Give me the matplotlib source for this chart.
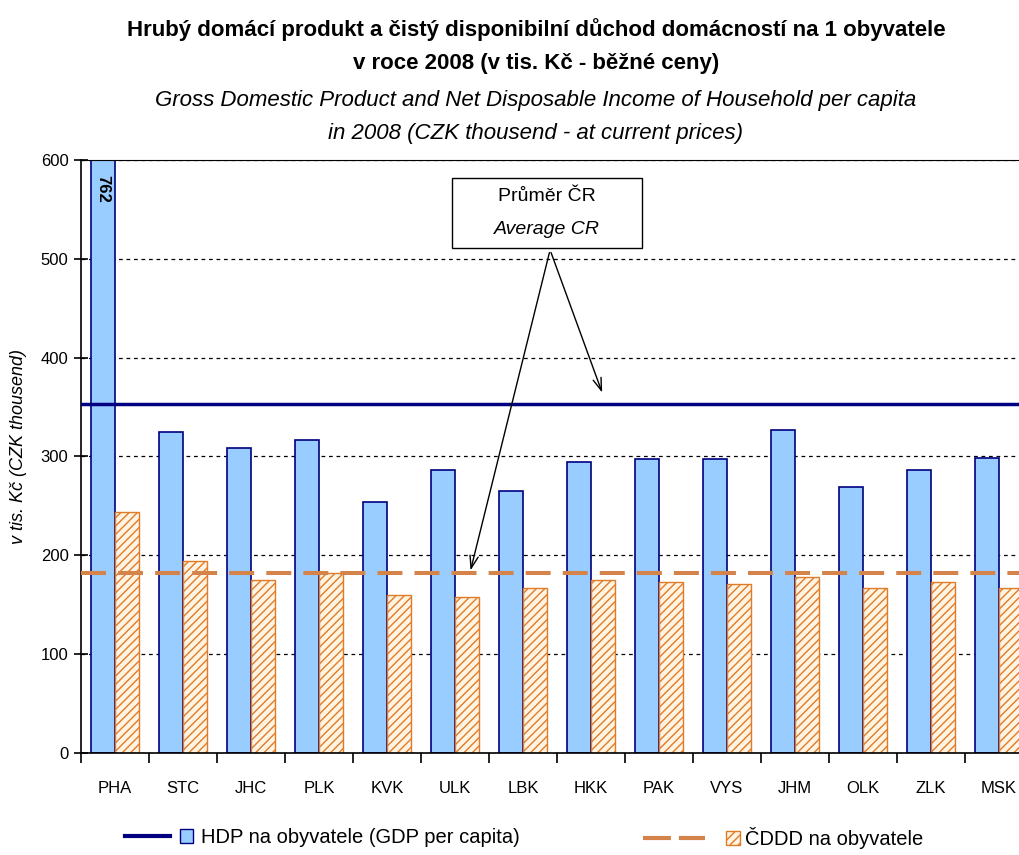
import numpy as np
import matplotlib
matplotlib.use("Agg")
import matplotlib.pyplot as plt
from matplotlib.lines import Line2D
from matplotlib.patches import Rectangle

plt.rcParams['font.family'] = ['Liberation Sans', 'DejaVu Sans']
plt.rcParams['hatch.linewidth'] = 1.0

# Data
kraje = ['PHA', 'STC', 'JHC', 'PLK', 'KVK', 'ULK', 'LBK', 'HKK',
         'PAK', 'VYS', 'JHM', 'OLK', 'ZLK', 'MSK']
hdp = [762, 325, 309, 317, 254, 286, 265, 294, 297, 297, 327, 269, 286, 298]
cddd = [244, 194, 175, 182, 160, 158, 167, 175, 173, 171, 178, 167, 173, 167]
prumer_hdp = 353
prumer_cddd = 182

modra = '#99CCFF'
navy = '#000080'
oranzova = '#E07B28'
oranz_cara = '#D4834A'
oranz_fill = '#FFF3E2'

fig = plt.figure(figsize=(10.19, 8.55), dpi=100)
ax = fig.add_axes([0.0795, 0.1193, 0.934, 0.6936])

x = np.arange(len(kraje))
w = 0.35
ax.bar(x - w/2, hdp, w, color=modra, edgecolor=navy, linewidth=1.2, zorder=2)
ax.bar(x + w/2, cddd, w, color=oranz_fill, edgecolor=oranzova, linewidth=1.0,
       hatch='////', zorder=2)

ax.axhline(prumer_hdp, color=navy, lw=2.5, zorder=3)
ax.axhline(prumer_cddd, color=oranz_cara, lw=2.9, ls=(0, (6.2, 3.0)), zorder=3)

ax.set_ylim(0, 600)
ax.set_xlim(-0.5, len(kraje) - 0.5)
ax.set_yticks(range(0, 601, 100))
ax.yaxis.grid(True, color='black', ls=(0, (3, 3)), lw=0.9, zorder=0)
ax.set_axisbelow(True)
ax.axhline(600, color='black', lw=1.2, zorder=1)

ax.set_xticks(x)
ax.set_xticklabels(kraje, fontsize=12)
ax.tick_params(axis='x', which='major', length=0, pad=20)
ax.set_xticks(np.arange(-0.5, len(kraje)), minor=True)
ax.tick_params(axis='x', which='minor', length=7, direction='out', width=1.2)
ax.tick_params(axis='y', direction='inout', length=10, width=1.2, labelsize=12, pad=4)
ax.spines['right'].set_visible(False)
ax.spines['left'].set_linewidth(1.2)
ax.spines['bottom'].set_linewidth(1.2)

# hodnota PHA mimo graf
ax.text(x[0] - w/2, 585, str(hdp[0]), rotation=270, ha='center', va='top',
        fontsize=12, fontweight='bold', zorder=4)

# Popisek průměru
ax.add_patch(Rectangle((4.96, 511), 2.79, 71, facecolor='white', edgecolor='black',
                       lw=1.0, zorder=5))
ax.text(6.35, 563, 'Průměr ČR', ha='center', va='center', fontsize=14, zorder=6)
ax.text(6.35, 530, 'Average CR', ha='center', va='center', fontsize=14,
        style='italic', zorder=6)
for cil in [(7.18, 362), (5.22, 182)]:
    ax.annotate('', xy=cil, xytext=(6.40, 509),
                arrowprops=dict(arrowstyle='->,head_length=0.9,head_width=0.3',
                                lw=1.0, color='black'), zorder=6)

# Nadpisy
fig.text(0.526, 0.965, 'Hrubý domácí produkt a čistý disponibilní důchod domácností na 1 obyvatele',
         ha='center', va='center', fontsize=16, fontweight='bold')
fig.text(0.526, 0.926, 'v roce 2008 (v tis. Kč - běžné ceny)',
         ha='center', va='center', fontsize=16, fontweight='bold')
fig.text(0.526, 0.883, 'Gross Domestic Product and Net Disposable Income of Household per capita',
         ha='center', va='center', fontsize=16, style='italic')
fig.text(0.526, 0.844, 'in 2008 (CZK thousend - at current prices)',
         ha='center', va='center', fontsize=16, style='italic')
fig.text(0.018, 0.478, 'v tis. Kč (CZK thousend)', rotation=90, ha='center',
         va='center', fontsize=13, style='italic')


# Legenda: čára + malý obdélník
class CaraObdelnik:
    def __init__(self, barva, styl, podil, fc, ec, hatch):
        self.barva, self.styl, self.podil = barva, styl, podil
        self.fc, self.ec, self.hatch = fc, ec, hatch

    def legend_artist(self, legend, orig_handle, fontsize, handlebox):
        x0, y0 = handlebox.xdescent, handlebox.ydescent
        sirka, vyska = handlebox.width, handlebox.height
        cara = Line2D([x0, x0 + sirka * self.podil], [y0 + vyska / 2] * 2,
                      color=self.barva, ls=self.styl, lw=3,
                      transform=handlebox.get_transform())
        obd = Rectangle((x0 + sirka - 9.5, y0), 9.5, vyska, facecolor=self.fc,
                        edgecolor=self.ec, hatch=self.hatch, lw=1.0,
                        transform=handlebox.get_transform())
        handlebox.add_artist(cara)
        handlebox.add_artist(obd)
        return cara


h1 = Line2D([], [])
h2 = Line2D([], [])
leg1 = fig.legend([h1], ['HDP na obyvatele (GDP per capita)'], loc='center left',
                  bbox_to_anchor=(125 / 1019, 0.02), frameon=False, fontsize=14.5,
                  handlelength=3.4, handletextpad=0.35, borderpad=0, borderaxespad=0,
                  handler_map={h1: CaraObdelnik(navy, '-', 0.66, modra, navy, None)})
leg2 = fig.legend([h2], ['ČDDD na obyvatele'], loc='center left',
                  bbox_to_anchor=(643 / 1019, 0.02), frameon=False, fontsize=14.5,
                  handlelength=4.8, handletextpad=0.25, borderpad=0, borderaxespad=0,
                  handler_map={h2: CaraObdelnik(oranz_cara, (0, (6.7, 1.9)), 0.64,
                                                oranz_fill, oranzova, '////')})

fig.savefig('out.png', dpi=100)
